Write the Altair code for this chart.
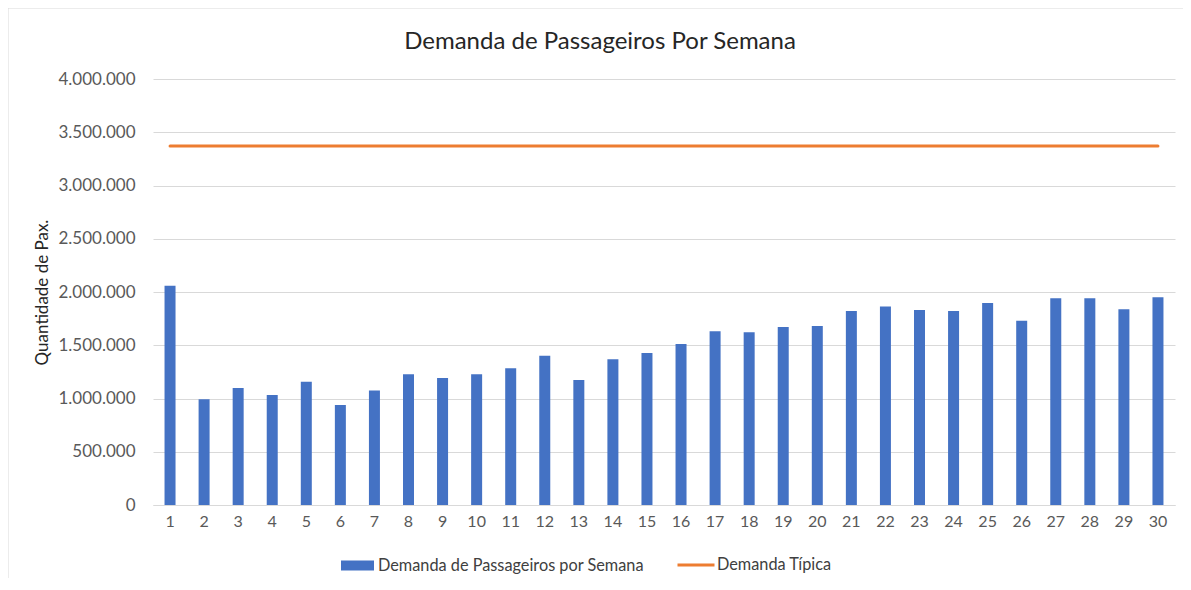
import altair as alt
import pandas as pd

weeks = list(range(1, 31))
demanda = [2059000, 992000, 1099000, 1033000, 1158000, 939000, 1074000, 1227000, 1192000, 1227000,
           1283000, 1402000, 1174000, 1368000, 1427000, 1512000, 1631000, 1621000, 1671000, 1681000,
           1822000, 1865000, 1831000, 1822000, 1897000, 1731000, 1941000, 1941000, 1838000, 1950000]
tipica = [3370000, 3370000, 3370000, 3370000, 3370000, 3370000, 3370000, 3370000, 3370000, 3370000,
          3370000, 3370000, 3370000, 3370000, 3370000, 3370000, 3370000, 3370000, 3370000, 3370000,
          3370000, 3370000, 3370000, 3370000, 3370000, 3370000, 3370000, 3370000, 3370000, 3370000]
y_ticks = [0, 500000, 1000000, 1500000, 2000000, 2500000, 3000000, 3500000, 4000000]

serie_bar = "Demanda de Passageiros por Semana"
serie_line = "Demanda Típica"

df = pd.DataFrame({
    "semana": weeks,
    "demanda": demanda,
    "tipica": tipica,
    "sb": [serie_bar] * len(weeks),
    "sl": [serie_line] * len(weeks),
})

FONT = "Lato"
GRAY = "#595959"

x = alt.X("semana:O", title=None,
          scale=alt.Scale(paddingInner=0, paddingOuter=0),
          axis=alt.Axis(labelAngle=0, ticks=False, grid=False, domainColor="#d9d9d9", domainWidth=1,
                        labelFontSize=16, labelColor=GRAY, labelFont=FONT, labelPadding=8))

label_expr = "replace(replace(replace(format(datum.value, ','), ',', '.'), ',', '.'), ',', '.')"

y_axis = alt.Axis(values=y_ticks, labelExpr=label_expr, ticks=False, domain=False, grid=True,
                  gridColor="#d9d9d9", gridWidth=1, labelFontSize=17, labelColor=GRAY,
                  labelFont=FONT, labelPadding=18, title="Quantidade de Pax.",
                  titleFont=FONT, titleFontSize=17, titleFontWeight="normal",
                  titleColor="#262626", titlePadding=6)

bars = alt.Chart(df).mark_bar(size=11).encode(
    x=x,
    y=alt.Y("demanda:Q", scale=alt.Scale(domain=[0, 4000000], nice=False), axis=y_axis),
    color=alt.Color("sb:N", scale=alt.Scale(range=["#4472C4"]),
                    legend=alt.Legend(title=None, orient="none", legendX=188, legendY=470,
                                      symbolType="M-1,-0.3H1V0.3H-1Z", symbolSize=1089,
                                      symbolStrokeWidth=0, labelFontSize=16.3, labelFont=FONT,
                                      labelColor="#404040", labelOffset=4, padding=0,
                                      labelLimit=400)),
)

line = alt.Chart(df).mark_line(strokeWidth=3, strokeCap="round").encode(
    x=x,
    y=alt.Y("tipica:Q"),
    stroke=alt.Stroke("sl:N", scale=alt.Scale(range=["#ED7D31"]),
                      legend=alt.Legend(title=None, orient="none", legendX=523, legendY=466,
                                        symbolType="stroke", symbolSize=1369,
                                        symbolStrokeWidth=3, labelFontSize=16.3, labelFont=FONT,
                                        labelColor="#404040", labelOffset=1, padding=0,
                                        labelLimit=400)),
)

border = alt.Chart(pd.DataFrame({"b": [0]})).mark_rect(
    fillOpacity=0, stroke="#d9d9d9", strokeWidth=1
).encode(x=alt.value(-145), x2=alt.value(1100), y=alt.value(-71), y2=alt.value(600))

chart = alt.layer(border, bars, line).resolve_scale(color="independent").properties(
    width=1022, height=426,
    autosize=alt.AutoSizeParams(type="none"),
    padding={"left": 145, "top": 71, "right": 8, "bottom": 73},
    title=alt.TitleParams("Demanda de Passageiros Por Semana", font=FONT, fontSize=24,
                          fontWeight="normal", color="#262626", anchor="middle",
                          dx=-64, offset=-46),
).configure_view(stroke=None)

chart.save("out.html", embed_options={"renderer": "svg", "actions": False})
